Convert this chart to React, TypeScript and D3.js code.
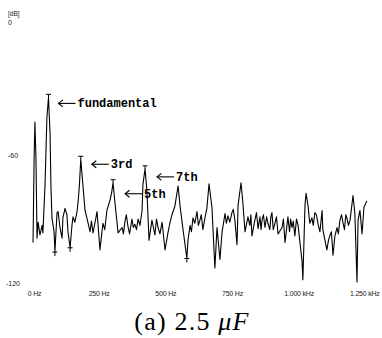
import React from "react";
import * as d3 from "d3";

// Spectrum trace: frequency (Hz) and level (dB)
const freqHz = [
  2, 6, 9, 13, 17, 21, 28, 36, 39, 47, 54, 60, 66, 69, 73, 81, 84, 92, 96, 103,
  111, 114, 122, 129, 133, 141, 148, 152, 159, 167, 171, 176, 181, 189, 197, 204, 216, 221, 227, 234,
  242, 253, 264, 271, 279, 291, 297, 302, 309, 321, 336, 341, 347, 352, 358, 364, 373, 378, 384, 390,
  396, 403, 411, 414, 422, 429, 437, 448, 459, 465, 471, 478, 486, 497, 508, 515, 523, 534, 546, 553,
  564, 579, 583, 591, 596, 602, 609, 617, 622, 628, 633, 639, 646, 654, 662, 673, 684, 692, 703, 711,
  722, 727, 733, 740, 748, 753, 759, 767, 771, 782, 789, 797, 808, 815, 819, 823, 834, 840, 846, 853,
  857, 861, 866, 872, 878, 883, 890, 894, 898, 903, 909, 915, 921, 936, 941, 947, 958, 964, 968, 973,
  978, 984, 990, 996, 1011, 1014, 1022, 1026, 1033, 1040, 1048, 1053, 1059, 1065, 1071, 1078, 1086, 1089, 1104, 1110,
  1116, 1121, 1127, 1134, 1142, 1147, 1153, 1159, 1164, 1170, 1175, 1179, 1185, 1191, 1202, 1209, 1217, 1221, 1228, 1236,
  1243, 1254,
];
const levelDb = [
  -101, -62, -44.5, -62, -99, -91.5, -97.5, -93, -96.5, -74, -42.5, -33, -50.5, -74, -89.5, -96, -105.5, -87, -86.5, -94,
  -99, -89.5, -85, -88, -96, -103.5, -93, -89, -91.5, -86.5, -82, -74, -62, -74, -86, -89.5, -96, -91, -96.5, -92,
  -86.5, -104.5, -92, -95, -86, -81, -77.5, -73, -82, -96.5, -94, -97, -91, -88, -93.5, -97, -90, -94, -92.5, -95,
  -90, -93, -86, -74, -66.5, -76.5, -100, -90.5, -97.5, -90, -94, -97, -91.5, -104.5, -96.5, -92, -88, -84, -74.5, -83.5,
  -94.5, -108.5, -100, -93, -96, -89.5, -92, -86.5, -93, -90.5, -88, -95, -90, -85, -73.5, -84.5, -113, -94, -109, -96,
  -87.5, -92, -88.5, -91.5, -87, -85.5, -90.5, -102, -83.5, -73, -82.5, -96, -89, -93, -88, -98, -90.5, -87, -94.5, -89,
  -95, -90.5, -88, -94, -89, -92, -95, -89, -87, -95, -92, -89, -97, -94, -90, -101, -89, -96, -90, -94,
  -91, -98, -90, -93, -110, -118.5, -83.5, -78, -83.5, -92, -89.5, -93, -87, -88, -92.5, -96, -86, -95, -104.5, -100,
  -97.5, -96, -107, -98, -94, -97, -90.5, -88, -91.5, -95, -88, -89.5, -93, -90.5, -79, -87.5, -119.5, -90.5, -86, -97,
  -84.5, -81.5,
];

const xTickValues = [0, 250, 500, 750, 1000, 1250];
const xTickLabels = ["0 Hz", "250 Hz", "500 Hz", "750 Hz", "1.000 kHz", "1.250 kHz"];
const yTickValues = [0, -60, -120];
const yTickLabels = ["0", "-60", "-120"];
const yUnit = "[dB]";

const harmonicNames = ["fundamental", "3rd", "5th", "7th"];
const harmonicFreqs = [60, 181, 302, 422];
const cursorDipFreqs = [84, 141, 579];

const captionPrefix = "(a) 2.5 ";
const captionUnit = "\u03BCF";

const W = 382;
const H = 338;

export default function App() {
  const x = d3.scaleLinear().domain([0, 1250]).range([32.5, 365.8]);
  const y = d3.scaleLinear().domain([0, -120]).range([27, 283]);
  const pts = freqHz.map((f, i) => [f, levelDb[i]] as [number, number]);
  const line = d3
    .line<[number, number]>()
    .x((d) => x(d[0]))
    .y((d) => y(d[1]));
  const levelAt = (f: number) => levelDb[freqHz.indexOf(f)];

  // annotation offsets (pixels) relative to each harmonic peak
  const annOffsets = [
    { dx: 10, dy: 6 },
    { dx: 11, dy: 5 },
    { dx: 12, dy: 11 },
    { dx: 12, dy: 8 },
  ];

  return (
    <svg
      width={W}
      height={H}
      viewBox={`0 0 ${W} ${H}`}
      style={{ position: "absolute", left: 0, top: 0, background: "#fff" }}
    >
      <rect width={W} height={H} fill="#fff" />
      {/* y axis unit and tick labels */}
      <text x={8} y={16} fontSize={6.5} fontFamily="Liberation Sans, Arial" fill="#222">
        {yUnit}
      </text>
      {yTickValues.map((v, i) => (
        <text
          key={v}
          x={i === 0 ? 10 : 13}
          y={y(v) + (i === 0 ? -4.5 : 0)}
          fontSize={7}
          textAnchor="middle"
          dominantBaseline="central"
          fontFamily="Liberation Sans, Arial"
          fill="#222"
        >
          {yTickLabels[i]}
        </text>
      ))}
      {/* x tick labels */}
      {xTickValues.map((v, i) => (
        <text
          key={v}
          x={x(v) + (i === 0 ? 2 : i === 5 ? -1 : 0)}
          y={293}
          fontSize={7}
          textAnchor="middle"
          dominantBaseline="central"
          fontFamily="Liberation Sans, Arial"
          fill="#222"
          letterSpacing={-0.2}
        >
          {xTickLabels[i]}
        </text>
      ))}
      {/* spectrum trace */}
      <path d={line(pts) || ""} fill="none" stroke="#000" strokeWidth={1.1} strokeLinejoin="round" />
      {/* cursor marks at harmonic peaks */}
      {harmonicFreqs.map((f) => {
        const px = x(f);
        const py = y(levelAt(f));
        return (
          <g key={"pk" + f} stroke="#000" strokeWidth={1}>
            <line x1={px - 2.5} x2={px + 2.5} y1={py - 3} y2={py - 3} />
            <line x1={px} x2={px} y1={py - 3} y2={py} />
          </g>
        );
      })}
      {cursorDipFreqs.map((f) => {
        const px = x(f);
        const py = y(levelAt(f));
        return (
          <g key={"dp" + f} stroke="#000" strokeWidth={1}>
            <line x1={px - 2.5} x2={px + 2.5} y1={py} y2={py} />
            <line x1={px} x2={px} y1={py} y2={py + 4} />
          </g>
        );
      })}
      {/* annotations */}
      {harmonicNames.map((name, i) => {
        const f = harmonicFreqs[i];
        const px = x(f) + annOffsets[i].dx;
        const py = y(levelAt(f)) + annOffsets[i].dy;
        return (
          <g key={name}>
            <line x1={px} x2={px + 17} y1={py} y2={py} stroke="#000" strokeWidth={1.1} />
            <path
              d={`M${px + 4.5},${py - 3.5} L${px},${py} L${px + 4.5},${py + 3.5}`}
              fill="none"
              stroke="#000"
              strokeWidth={1.1}
            />
            <text
              x={px + 19}
              y={py + 4}
              fontSize={12}
              fontWeight="bold"
              fontFamily="Liberation Mono, Courier New, monospace"
              fill="#000"
            >
              {name}
            </text>
          </g>
        );
      })}
      {/* caption */}
      <text
        x={192}
        y={330}
        fontSize={26}
        letterSpacing={1.2}
        textAnchor="middle"
        fontFamily="Liberation Serif, Times New Roman, serif"
        fill="#000"
      >
        {captionPrefix}
        <tspan fontStyle="italic">{captionUnit}</tspan>
      </text>
    </svg>
  );
}
